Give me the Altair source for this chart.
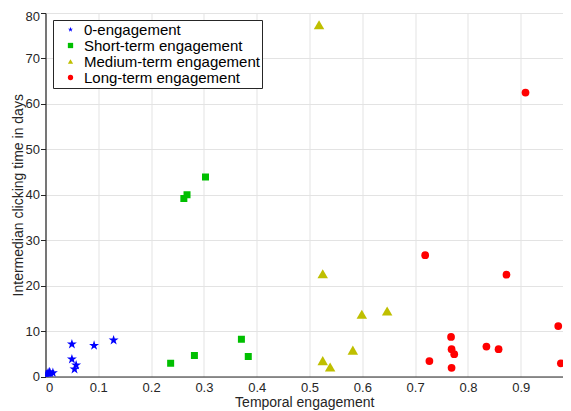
import altair as alt
import pandas as pd

groups = ["0-engagement", "Short-term engagement", "Medium-term engagement", "Long-term engagement"]

zero_x = [0.0, 0.001, 0.003, 0.005, 0.008, 0.014, 0.002, 0.010, 0.050, 0.092, 0.129, 0.050, 0.058, 0.055]
zero_y = [0.0, 0.2, 0.5, 0.8, 1.0, 0.8, 0.1, 0.4, 7.1, 6.8, 8.0, 3.8, 2.5, 1.6]

short_x = [0.237, 0.282, 0.262, 0.268, 0.303, 0.371, 0.384]
short_y = [2.9, 4.6, 39.2, 40.0, 43.9, 8.2, 4.4]

medium_x = [0.518, 0.525, 0.525, 0.539, 0.582, 0.599, 0.647]
medium_y = [77.4, 22.6, 3.5, 2.1, 5.8, 13.7, 14.4]

long_x = [0.909, 0.719, 0.873, 0.971, 0.768, 0.769, 0.774, 0.727, 0.769, 0.835, 0.858, 0.988, 0.976]
long_y = [62.5, 26.7, 22.4, 11.1, 8.7, 6.0, 4.9, 3.4, 1.9, 6.6, 6.0, 5.1, 2.9]

xs = [zero_x, short_x, medium_x, long_x]
ys = [zero_y, short_y, medium_y, long_y]

rows = []
for g, gx, gy in zip(groups, xs, ys):
    for a, b in zip(gx, gy):
        rows.append({"x": a, "y": b, "group": g})
df = pd.DataFrame(rows)

star = ("M0,-1L0.2245,-0.309L0.9511,-0.309L0.3633,0.118L0.5878,0.809L0,0.382"
        "L-0.5878,0.809L-0.3633,0.118L-0.9511,-0.309L-0.2245,-0.309Z")
colors = ["#0000ff", "#00bf00", "#bfbf00", "#ff0000"]
shapes = [star, "square", "triangle-up", "circle"]
sizes = [110, 49, 110, 60]

AX = "#262626"
FONT = "Liberation Sans"

base = alt.Chart(df)
layers = []
for i, g in enumerate(groups):
    enc = dict(
        x=alt.X("x:Q", title="Temporal engagement",
                scale=alt.Scale(domain=[0, 0.98], nice=False, zero=False),
                axis=alt.Axis(values=[0, 0.1, 0.2, 0.3, 0.4, 0.5, 0.6, 0.7, 0.8, 0.9],
                              format="~g", tickSize=0, labelPadding=5, titlePadding=1)),
        y=alt.Y("y:Q", title="Intermedian clicking time in days",
                scale=alt.Scale(domain=[0, 80], nice=False),
                axis=alt.Axis(values=[0, 10, 20, 30, 40, 50, 60, 70, 80], tickSize=5,
                              labelPadding=1, titlePadding=0,
                              labelOffset=alt.condition("datum.value == 80",
                                                        alt.value(3), alt.value(0)))),
        color=alt.Color("group:N", sort=groups,
                        scale=alt.Scale(domain=groups, range=colors),
                        legend=alt.Legend(title=None, orient="none", legendX=7.5, legendY=7,
                                          symbolSize=28, labelFontSize=15, labelFont=FONT,
                                          labelColor="#000000", padding=2, symbolOffset=8,
                                          labelOffset=6, rowPadding=-2.5, fillColor="white",
                                          strokeColor=AX, symbolStrokeWidth=1,
                                          labelLimit=400)),
        shape=alt.Shape("group:N", sort=groups,
                        scale=alt.Scale(domain=groups, range=shapes)),
    )
    layers.append(
        base.transform_filter(alt.datum.group == g)
        .mark_point(filled=True, opacity=1, strokeWidth=1, clip=True, size=sizes[i])
        .encode(**enc)
    )

chart = alt.layer(*layers).properties(
    width=517.5, height=363.5,
    background="white",
    autosize=alt.AutoSizeParams(type="none"),
    padding={"left": 37.5, "top": 5, "right": 0, "bottom": 34},
).configure_view(stroke=None).configure_axis(
    domainColor=AX, tickColor=AX, labelColor=AX, titleColor=AX,
    labelFont=FONT, titleFont=FONT, labelFontSize=13, titleFontSize=14,
    titleFontWeight="normal", gridColor="#e3e3e3", gridWidth=1, domainWidth=1.2,
)

chart.save("out.html", embed_options={"renderer": "svg", "actions": False})
